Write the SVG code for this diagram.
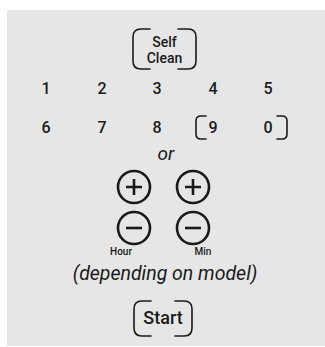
<svg xmlns="http://www.w3.org/2000/svg" width="325" height="347" viewBox="0 0 325 347">
<style>
text{font-family:Roboto,"Open Sans","Liberation Sans",sans-serif;font-weight:500;fill:#1a1a1a;text-anchor:middle}
.d{font-size:16px}
.b{font-size:14px}
.i{font-style:italic;font-weight:400;font-size:19.5px}
.s{font-size:10px}
.br{fill:none;stroke:#1a1a1a;stroke-width:1.6;stroke-linecap:round}
.c{fill:none;stroke:#1a1a1a;stroke-width:2.6}
</style>
<rect x="7" y="10" width="318" height="336" fill="#e6e6e6"/>
<g id="self-clean">
<path class="br" d="M150 29 H141 Q133 29 133 37 V61 Q133 69 141 69 H150"/>
<path class="br" d="M178 29 H188 Q196 29 196 37 V61 Q196 69 188 69 H178"/>
<text class="b" x="164.5" y="47">Self</text>
<text class="b" x="164.5" y="63">Clean</text>
</g>
<g id="digits">
<text class="d" x="46" y="94">1</text>
<text class="d" x="102" y="94">2</text>
<text class="d" x="157" y="94">3</text>
<text class="d" x="213" y="94">4</text>
<text class="d" x="268" y="94">5</text>
<text class="d" x="46" y="133">6</text>
<text class="d" x="102" y="133">7</text>
<text class="d" x="157" y="133">8</text>
<text class="d" x="213" y="133">9</text>
<text class="d" x="268" y="133">0</text>
</g>
<g id="bracket-9-0">
<path class="br" d="M206 116 H201 Q196 116 196 121 V134 Q196 139 201 139 H206"/>
<path class="br" d="M277 116 H282 Q287 116 287 121 V134 Q287 139 282 139 H277"/>
</g>
<text id="or" class="i" x="166" y="160" style="font-size:19px">or</text>
<g id="hour">
<circle class="c" cx="134" cy="187" r="16"/>
<path class="c" d="M126 187 H142 M134 179 V195"/>
<circle class="c" cx="134" cy="228" r="16"/>
<path class="c" d="M126 228 H142"/>
<text class="s" x="121" y="255">Hour</text>
</g>
<g id="min">
<circle class="c" cx="193" cy="187" r="16"/>
<path class="c" d="M185 187 H201 M193 179 V195"/>
<circle class="c" cx="193" cy="228" r="16"/>
<path class="c" d="M185 228 H201"/>
<text class="s" x="203" y="255">Min</text>
</g>
<text id="depending" class="i" x="165" y="280">(depending on model)</text>
<g id="start">
<path class="br" d="M151 301 H142 Q134 301 134 309 V328 Q134 336 142 336 H151"/>
<path class="br" d="M175 301 H184 Q192 301 192 309 V328 Q192 336 184 336 H175"/>
<text class="d" x="163" y="324" style="font-size:18px">Start</text>
</g>
<g id="connectors"/>
</svg>
